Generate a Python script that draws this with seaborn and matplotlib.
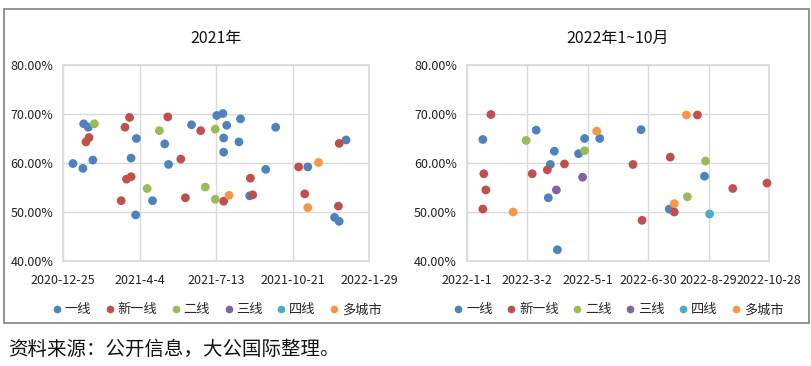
import numpy as np
import pandas as pd
import matplotlib
matplotlib.use('Agg')
import matplotlib.pyplot as plt
import matplotlib.dates as mdates
from matplotlib.patches import Rectangle
from matplotlib.lines import Line2D
import seaborn as sns

sns.set_theme(style='white')
plt.rcParams['font.family'] = ['Noto Sans CJK SC', 'DejaVu Sans']

categories = ['一线', '新一线', '二线', '三线', '四线', '多城市']
colors = ['#4F81BD', '#C0504D', '#9BBB59', '#8064A2', '#4BACC6', '#F79646']

# 2021
dates_2021_t1 = ['2021-01-21', '2021-01-27', '2021-01-07', '2021-01-20', '2021-02-02', '2021-03-31',
                 '2021-03-24', '2021-04-21', '2021-03-30', '2021-05-07', '2021-05-12', '2021-06-11',
                 '2021-07-14', '2021-07-22', '2021-07-27', '2021-07-23', '2021-07-23', '2021-08-14',
                 '2021-08-12', '2021-09-29', '2021-09-16', '2021-08-26', '2021-11-10', '2021-12-30',
                 '2021-12-15', '2021-12-21']
vals_2021_t1 = [68.0, 67.3, 59.9, 58.9, 60.6, 65.0, 61.0, 52.3, 49.4, 63.9, 59.7, 67.8,
                69.7, 70.1, 67.7, 65.1, 62.2, 69.0, 64.3, 67.3, 58.7, 53.3, 59.2, 64.7,
                48.9, 48.1]
dates_2021_new1 = ['2021-01-28', '2021-01-24', '2021-03-22', '2021-03-16', '2021-05-11', '2021-06-23',
                   '2021-05-28', '2021-03-24', '2021-03-18', '2021-03-11', '2021-06-03', '2021-07-23',
                   '2021-08-27', '2021-08-30', '2021-10-29', '2021-11-06', '2021-12-21', '2021-12-20']
vals_2021_new1 = [65.2, 64.3, 69.3, 67.3, 69.4, 66.6, 60.8, 57.2, 56.7, 52.3, 52.9, 52.2,
                  56.9, 53.5, 59.2, 53.7, 64.0, 51.2]
dates_2021_t2 = ['2021-02-04', '2021-04-30', '2021-04-14', '2021-06-29', '2021-07-12', '2021-07-12']
vals_2021_t2 = [68.0, 66.6, 54.8, 55.1, 66.9, 52.6]
dates_2021_multi = ['2021-07-30', '2021-11-24', '2021-11-10']
vals_2021_multi = [53.4, 60.1, 50.9]

# 2022 Jan-Oct
dates_2022_t1 = ['2022-01-17', '2022-03-11', '2022-03-29', '2022-03-25', '2022-03-23', '2022-04-01',
                 '2022-04-22', '2022-04-28', '2022-05-13', '2022-06-23', '2022-08-25', '2022-07-21']
vals_2022_t1 = [64.8, 66.7, 62.4, 59.7, 52.9, 42.3, 61.9, 65.0, 65.0, 66.8, 57.3, 50.6]
dates_2022_new1 = ['2022-01-25', '2022-01-18', '2022-01-20', '2022-01-17', '2022-03-07', '2022-03-22',
                   '2022-04-08', '2022-08-18', '2022-07-22', '2022-06-15', '2022-06-24', '2022-07-26',
                   '2022-09-22', '2022-10-26']
vals_2022_new1 = [69.9, 57.8, 54.5, 50.6, 57.8, 58.6, 59.8, 69.8, 61.2, 59.7, 48.3, 50.0, 54.8, 55.9]
dates_2022_t2 = ['2022-03-01', '2022-04-28', '2022-08-26', '2022-08-08']
vals_2022_t2 = [64.6, 62.5, 60.4, 53.1]
dates_2022_t3 = ['2022-03-31', '2022-04-26']
vals_2022_t3 = [54.5, 57.1]
dates_2022_t4 = ['2022-08-30']
vals_2022_t4 = [49.6]
dates_2022_multi = ['2022-02-16', '2022-05-10', '2022-08-07', '2022-07-26']
vals_2022_multi = [50.0, 66.5, 69.8, 51.7]

ticks_2021 = ['2020-12-25', '2021-04-04', '2021-07-13', '2021-10-21', '2022-01-29']
ticks_2022 = ['2022-01-01', '2022-03-02', '2022-05-01', '2022-06-30', '2022-08-29', '2022-10-28']


def frame(parts):
    rows = []
    for cat, d, v in parts:
        rows.append(pd.DataFrame({'date': pd.to_datetime(d), 'rate': v, 'type': cat}))
    return pd.concat(rows, ignore_index=True)


df21 = frame([('一线', dates_2021_t1, vals_2021_t1), ('新一线', dates_2021_new1, vals_2021_new1),
              ('二线', dates_2021_t2, vals_2021_t2), ('多城市', dates_2021_multi, vals_2021_multi)])
df22 = frame([('一线', dates_2022_t1, vals_2022_t1), ('新一线', dates_2022_new1, vals_2022_new1),
              ('二线', dates_2022_t2, vals_2022_t2), ('三线', dates_2022_t3, vals_2022_t3),
              ('四线', dates_2022_t4, vals_2022_t4), ('多城市', dates_2022_multi, vals_2022_multi)])

palette = dict(zip(categories, colors))

fig = plt.figure(figsize=(8.12, 3.66), dpi=100)
ax1 = fig.add_axes([63 / 812, 1 - 261 / 366, 306 / 812, 196 / 366])
ax2 = fig.add_axes([466.7 / 812, 1 - 261 / 366, 302.3 / 812, 196 / 366])

for ax, df, ticks, title in [(ax1, df21, ticks_2021, '2021年'), (ax2, df22, ticks_2022, '2022年1~10月')]:
    sns.scatterplot(data=df, x='date', y='rate', hue='type', palette=palette, s=40,
                    edgecolor='none', ax=ax, legend=False, zorder=3, clip_on=False)
    tk = pd.to_datetime(ticks)
    ax.set_xlim(tk[0], tk[-1])
    ax.set_xticks(tk)
    ax.set_xticklabels([f'{t.year}-{t.month}-{t.day}' for t in tk], fontsize=9, color='#222222')
    ax.set_ylim(40, 80)
    ax.set_yticks([40, 50, 60, 70, 80])
    ax.set_yticklabels([f'{v:.2f}%' for v in [40, 50, 60, 70, 80]], fontsize=9, color='#222222')
    ax.tick_params(axis='x', length=0, pad=9)
    ax.tick_params(axis='y', length=0, pad=7)
    ax.grid(True, color='#d9d9d9', linewidth=1)
    ax.set_axisbelow(True)
    for sp in ax.spines.values():
        sp.set_color('#d9d9d9')
    ax.set_xlabel('')
    ax.set_ylabel('')
    ax.set_title(title, fontsize=11.5, pad=16, color='#111111')
    handles = [Line2D([], [], marker='o', linestyle='', markersize=5.5, markerfacecolor=c,
                      markeredgecolor='none') for c in colors]
    ax.legend(handles, categories, loc='upper center', bbox_to_anchor=(0.5, -0.155), ncol=6,
              frameon=False, fontsize=9.5, handletextpad=0.1, columnspacing=0.9, handlelength=1.0)

fig.patches.append(Rectangle((4 / 812, 1 - 323 / 366), 805 / 812, 314 / 366, transform=fig.transFigure,
                             fill=False, edgecolor='#808080', linewidth=1.2))
fig.text(8 / 812, 1 - 349 / 366, '资料来源：公开信息，大公国际整理。', fontsize=14, va='center', ha='left',
         color='#111111')

fig.savefig('out.png', dpi=100)
